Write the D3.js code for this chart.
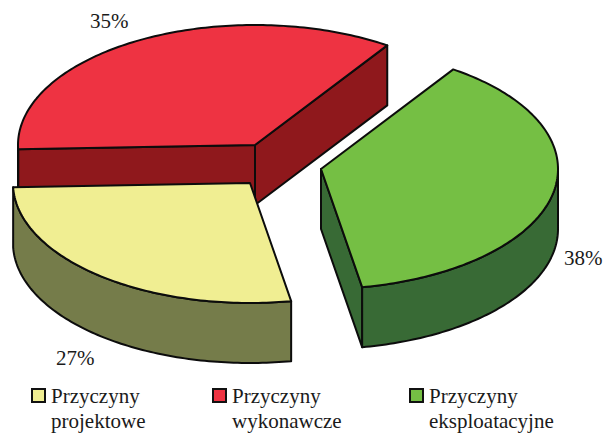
<!DOCTYPE html>
<html>
<head>
<meta charset="utf-8">
<script src="https://cdn.jsdelivr.net/npm/d3@7"></script>
<style>
  html, body { margin: 0; padding: 0; background: #fff; }
  svg { display: block; }
  text { font-family: "Liberation Serif", serif; fill: #1a1a1a; }
</style>
</head>
<body>
<svg width="603" height="433"></svg>
<script>
var categories = ["projektowe", "wykonawcze", "eksploatacyjne"];
var shares = [27.2, 35, 37.8];
var percentLabels = ["27%", "35%", "38%"];
var legendFirstLine = "Przyczyny";

var topColors = ["#f0ee92", "#ee3342", "#75bf44"];
var sideColors = ["#757c4a", "#8f181c", "#386a35"];

// each slice is pulled away from the pie on its own
var centers = [[250, 183], [255, 145], [321, 169]];
var labelPos = [[56, 365], [90, 28], [564, 265]];
var legendX = [32, 213, 410];
var drawOrder = [1, 2, 0];

var rx = 237, ry = 120, depth = 60;
var start = 170 * Math.PI / 180;

var svg = d3.select("svg");

var pie = d3.pie()
    .sort(null)
    .value(function(d) { return d; })
    .startAngle(start)
    .endAngle(start + Math.PI * 2);
var slices = pie(shares);

var line = d3.line();

function rimPoint(c, a, dy) {
    return [c[0] + rx * Math.sin(a), c[1] - ry * Math.cos(a) + dy];
}

function rim(c, a0, a1, dy) {
    var n = Math.max(1, Math.ceil((a1 - a0) * 180 / Math.PI));
    return d3.range(n + 1).map(function(i) {
        return rimPoint(c, a0 + (a1 - a0) * i / n, dy);
    });
}

// faces a wall of the slice towards the viewer or not
function wallVisible(normal) {
    return Math.cos(normal) < 0;
}

function drawFace(pts, color) {
    svg.append("path")
        .attr("d", line(pts) + "Z")
        .attr("fill", color)
        .attr("stroke", "#0c0c0c")
        .attr("stroke-width", 2)
        .attr("stroke-linejoin", "round");
}

function drawWall(c, a, color) {
    var p = rimPoint(c, a, 0);
    drawFace([c, p, [p[0], p[1] + depth], [c[0], c[1] + depth]], color);
}

drawOrder.forEach(function(i) {
    var s = slices[i];
    var c = centers[i];

    if (wallVisible(s.startAngle - Math.PI / 2)) drawWall(c, s.startAngle, sideColors[i]);
    if (wallVisible(s.endAngle + Math.PI / 2)) drawWall(c, s.endAngle, sideColors[i]);

    // outer wall, only the front half of the ellipse shows
    [0, 2].forEach(function(turn) {
        var from = Math.max(s.startAngle, Math.PI / 2 + turn * Math.PI);
        var to = Math.min(s.endAngle, Math.PI * 1.5 + turn * Math.PI);
        if (to > from) {
            var upper = rim(c, from, to, 0);
            var lower = rim(c, from, to, depth).reverse();
            drawFace(upper.concat(lower), sideColors[i]);
        }
    });

    drawFace([c].concat(rim(c, s.startAngle, s.endAngle, 0)), topColors[i]);
});

svg.selectAll(".pct")
    .data(percentLabels)
    .enter()
    .append("text")
    .attr("class", "pct")
    .attr("x", function(d, i) { return labelPos[i][0]; })
    .attr("y", function(d, i) { return labelPos[i][1]; })
    .attr("font-size", 21)
    .text(function(d) { return d; });

var legend = svg.selectAll(".legend")
    .data(categories)
    .enter()
    .append("g")
    .attr("class", "legend")
    .attr("transform", function(d, i) { return "translate(" + legendX[i] + ",389)"; });

legend.append("rect")
    .attr("width", 13)
    .attr("height", 13)
    .attr("fill", function(d, i) { return topColors[i]; })
    .attr("stroke", "#111")
    .attr("stroke-width", 2);

legend.append("text")
    .attr("x", 19)
    .attr("y", 14)
    .attr("font-size", 21)
    .text(legendFirstLine);

legend.append("text")
    .attr("x", 19)
    .attr("y", 39)
    .attr("font-size", 21)
    .text(function(d) { return d; });
</script>
</body>
</html>
